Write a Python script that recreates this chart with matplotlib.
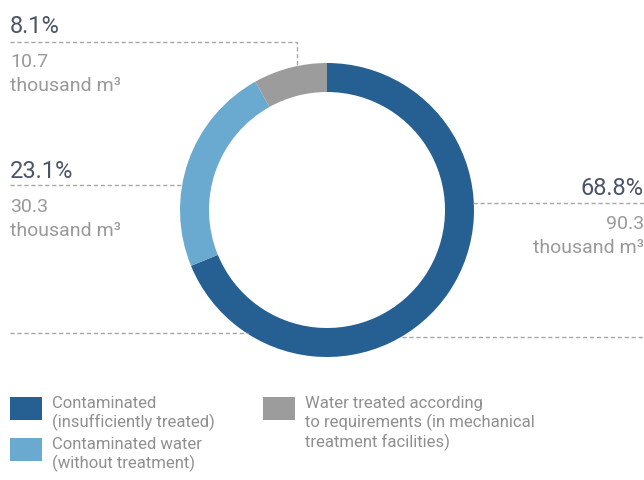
import matplotlib
matplotlib.use('Agg')
import matplotlib.pyplot as plt
from matplotlib import font_manager

# Water discharge structure
labels = ['Contaminated\n(insufficiently treated)',
          'Contaminated water\n(without treatment)',
          'Water treated according\nto requirements (in mechanical\ntreatment facilities)']
shares = [68.8, 23.1, 8.1]
volumes = ['90.3', '30.3', '10.7']
colors = ['#266092', '#6aaad1', '#9c9c9c']

# pick a narrow face if one is present
names = {f.name for f in font_manager.fontManager.ttflist}
font = 'Liberation Sans Narrow' if 'Liberation Sans Narrow' in names else 'Roboto'
plt.rcParams['font.family'] = [font, 'DejaVu Sans']

dark_text = '#4b5565'
grey_text = '#999999'
line_kw = dict(color='#a6a6a6', lw=1, ls=(0, (3, 2)))

fig = plt.figure(figsize=(6.44, 4.8), dpi=100)
ax = fig.add_axes([0, 0, 1, 1])

# donut, clockwise from the top
ax.pie(shares, colors=colors, startangle=90, counterclock=False,
       center=(327, 270), radius=147, frame=True,
       wedgeprops=dict(width=29, linewidth=0))
ax.set_xlim(0, 644)
ax.set_ylim(0, 480)
ax.set_aspect('equal')
ax.axis('off')

# leader lines
ax.plot([10, 297, 297], [438, 438, 413], **line_kw)
ax.plot([10, 183], [295, 295], **line_kw)
ax.plot([10, 248], [147, 147], **line_kw)
ax.plot([473, 644], [277, 277], **line_kw)
ax.plot([402, 644], [143, 143], **line_kw)

def callout(x, y, share, vol, ha):
    ax.text(x, y, f'{share}%', ha=ha, va='baseline', fontsize=17, color=dark_text)
    ax.text(x, y - 34, vol, ha=ha, va='baseline', fontsize=14, color=grey_text)
    ax.text(x, y - 58, 'thousand m³', ha=ha, va='baseline', fontsize=14, color=grey_text)

callout(10, 447, shares[2], volumes[2], 'left')
callout(10, 302, shares[1], volumes[1], 'left')
callout(644, 285, shares[0], volumes[0], 'right')

# legend
boxes = [(10, 60), (10, 19), (263, 60)]
for (bx, by), lab, c in zip(boxes, labels, colors):
    ax.add_patch(plt.Rectangle((bx, by), 32, 23, color=c, lw=0))
    ax.text(bx + 42, by + 24, lab, ha='left', va='top', fontsize=12,
            color='#8f8f8f', linespacing=1.2)

fig.savefig('out.png', dpi=100)
